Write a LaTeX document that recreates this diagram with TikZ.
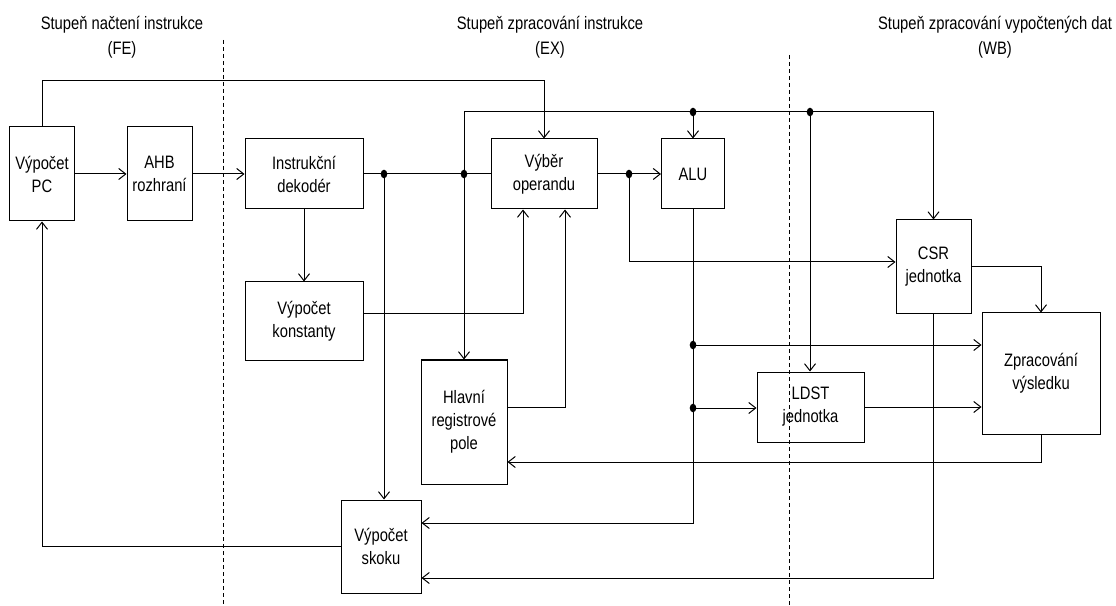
\documentclass[tikz,border=0pt]{standalone}
\usepackage{fontspec}
\setmainfont{Liberation Sans}[FakeStretch=0.82]
\usetikzlibrary{arrows.meta,calc}
\begin{document}
\begin{tikzpicture}[x=1bp,y=-1bp,
  every node/.style={font=\fontsize{18bp}{23bp}\selectfont},
  box/.style={draw, line width=1bp, rectangle, align=center, inner sep=0pt},
  hdr/.style={align=center, font=\fontsize{18bp}{25bp}\selectfont},
  ln/.style={line width=1bp},
  arr/.style={line width=1bp, -{Straight Barb[length=7bp,width=11bp,line width=1bp]}},
  sep/.style={line width=0.9bp, dash pattern=on 4bp off 3bp},
  jdot/.style={fill=black}
]
\useasboundingbox (0,0) rectangle (1116,606);

% headers
\node[hdr] (h1) at (122,37.5) {Stupeň načtení instrukce\\(FE)};
\node[hdr] (h2) at (550,37.5) {Stupeň zpracování instrukce\\(EX)};
\node[hdr] (h3) at (995,37.5) {Stupeň zpracování vypočtených dat\\(WB)};

% stage separators
\draw[sep] (223,40) -- (223,606);
\draw[sep] (789,55) -- (789,606);

% boxes
\node[box, minimum width=64bp, minimum height=94bp] (pc) at (42,174) {Výpočet\\PC};
\node[box, minimum width=65bp, minimum height=94bp] (ahb) at (159.5,174) {AHB\\rozhraní};
\node[box, minimum width=118bp, minimum height=70bp] (dec) at (304,174) {Instrukční\\dekodér};
\node[box, minimum width=118bp, minimum height=78bp] (konst) at (304,321) {Výpočet\\konstanty};
\node[box, minimum width=106bp, minimum height=70bp] (vyb) at (544,174) {Výběr\\operandu};
\node[box, minimum width=63bp, minimum height=70bp] (alu) at (693,174) {ALU};
\node[box, minimum width=86bp, minimum height=124bp] (hrp) at (464,422) {Hlavní\\registrové\\pole};
\node[box, minimum width=80bp, minimum height=93bp] (skok) at (381,546.5) {Výpočet\\skoku};
\node[box, minimum width=75bp, minimum height=93bp] (csr) at (933.5,266.5) {CSR\\jednotka};
\node[box, minimum width=118bp, minimum height=121bp] (zpr) at (1041,373.5) {Zpracování\\výsledku};
\node[box, minimum width=107bp, minimum height=70bp] (ldst) at (810.5,407) {LDST\\jednotka};

% junctions
\coordinate (j1) at (384,174);
\coordinate (j2) at (464,174);
\coordinate (j3) at (629,174);
\coordinate (r1) at (464,112);
\coordinate (j4) at (693,112);
\coordinate (j5) at (810,112);
\coordinate (j6) at (693,345);
\coordinate (j7) at (693,408);

% connectors
\draw[arr] (pc.north) -- ++(0,-46) -| (vyb.north);
\draw[arr] (pc.east) -- (ahb.west);
\draw[arr] (ahb.east) -- (dec.west);
\draw[ln] (dec.east) -- (vyb.west);
\draw[arr] (j1) -- (j1 |- skok.north);
\draw[ln] (j2) -- (r1);
\draw[arr] (j2) -- (hrp.north);
\draw[arr] (r1) -| (csr.north);
\draw[arr] (j4) -- (j4 |- alu.north);
\draw[arr] (j5) -- (j5 |- ldst.north);
\draw[arr] (vyb.east) -- (alu.west);
\draw[arr] (j3) |- ($(csr.west)+(0,-4.5)$);
\draw[arr] (dec.south) -- (konst.north);
\draw[arr] ($(konst.east)+(0,-8)$) -| ($(vyb.south)+(-21,0)$);
\draw[arr] ($(hrp.east)+(0,-15)$) -| ($(vyb.south)+(21,0)$);
\draw[arr] (alu.south) |- ($(skok.east)+(0,-23.5)$);
\draw[arr] (j6) -- (j6 -| zpr.west);
\draw[arr] (j7) -- (j7 -| ldst.west);
\draw[arr] (ldst.east) -- (ldst.east -| zpr.west);
\draw[arr] ($(csr.east)+(0,0.5)$) -| (zpr.north);
\draw[arr] (zpr.south) |- ($(hrp.east)+(0,40)$);
\draw[arr] (csr.south) |- ($(skok.east)+(0,31.5)$);
\draw[arr] (skok.west) -| (pc.south);

% junction dots
\foreach \j in {j1,j2,j3,j4,j5,j6,j7}
  \fill[jdot] (\j) ellipse [x radius=3.3bp, y radius=4.3bp];
\end{tikzpicture}
\end{document}
